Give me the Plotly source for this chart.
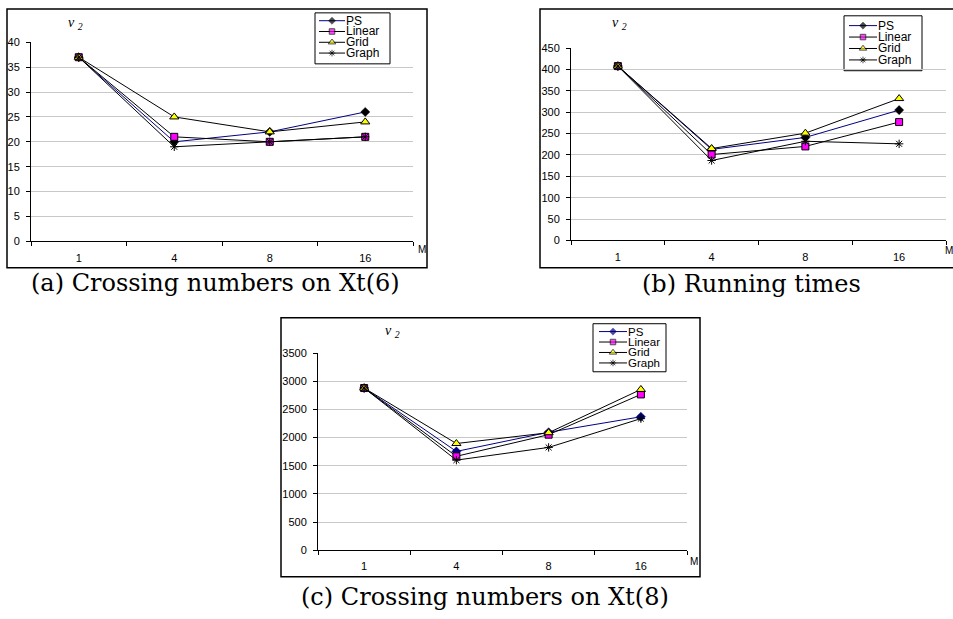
import plotly.graph_objects as go

W, H = 953, 619

categories = ["1", "4", "8", "16"]
series_names = ["PS", "Linear", "Grid", "Graph"]

# (a) Crossing numbers on Xt(6)
a_ps = [37, 20, 22, 26]
a_linear = [37, 21, 20, 21]
a_grid = [37, 25, 22, 24]
a_graph = [37, 19, 20, 21]

# (b) Running times
b_ps = [408, 213, 241, 305]
b_linear = [408, 201, 220, 277]
b_grid = [408, 215, 251, 332]
b_graph = [408, 187, 232, 226]

# (c) Crossing numbers on Xt(8)
c_ps = [2880, 1755, 2095, 2370]
c_linear = [2880, 1668, 2052, 2767]
c_grid = [2880, 1895, 2087, 2855]
c_graph = [2880, 1600, 1826, 2337]

y_ranges = [[0, 40], [0, 450], [0, 3500]]
y_dticks = [5, 50, 500]
captions = ["(a) Crossing numbers on Xt(6)", "(b) Running times", "(c) Crossing numbers on Xt(8)"]

# legend glyph sample: x positions along the sample line (axis units 0..1)
legend_sample_x = [0, 0.5, 1]
legend_rows = [0, 1, 2, 3]


def px(x):
    return x / W


def py(y):
    return 1 - y / H


# pixel geometry of each panel
panels = [
    dict(plot=(31, 413, 37, 240), box=(7, 427, 3, 267),
         lbox=(315, 390, 7, 59), lsample=(319, 345), lrows=(15, 48), lfont=12,
         v2=(75, 18), M=(422, 248), cap=(215, 282), ps_marker="black"),
    dict(plot=(571, 946, 43, 239), box=(540, 960, 3, 267),
         lbox=(844, 922, 10, 66), lsample=(849, 877), lrows=(20, 55), lfont=12,
         v2=(619, 18), M=(949, 249), cap=(751, 283), ps_marker="black"),
    dict(plot=(318, 687, 354, 555), box=(281, 700, 318, 582),
         lbox=(593, 666, 324, 373), lsample=(599, 627), lrows=(332, 364), lfont=11.5,
         v2=(392, 332), M=(694, 566), cap=(485, 603), ps_marker="#000080"),
]

data_sets = [
    [a_ps, a_linear, a_grid, a_graph],
    [b_ps, b_linear, b_grid, b_graph],
    [c_ps, c_linear, c_grid, c_graph],
]

fig = go.Figure()
shapes = []
annotations = []

for i, (p, ds) in enumerate(zip(panels, data_sets)):
    n = "" if i == 0 else str(i + 1)
    xa, ya = "x" + n, "y" + n
    ln = str(i + 4)
    lxa, lya = "x" + ln, "y" + ln
    styles = [
        dict(line=dict(color="#000080", width=1),
             marker=dict(symbol="diamond", size=7, color=p["ps_marker"],
                         line=dict(color=p["ps_marker"], width=0.5))),
        dict(line=dict(color="black", width=1),
             marker=dict(symbol="square", size=7, color="#ff00ff",
                         line=dict(color="black", width=1))),
        dict(line=dict(color="black", width=1),
             marker=dict(symbol="triangle-up", size=8, color="#ffff00",
                         line=dict(color="black", width=1))),
        dict(line=dict(color="black", width=1),
             marker=dict(symbol="asterisk-open", size=7, color="black",
                         line=dict(color="black", width=1))),
    ]
    for name, vals, st in zip(series_names, ds, styles):
        fig.add_trace(go.Scatter(
            x=categories, y=vals, name=name, mode="lines+markers",
            xaxis=xa, yaxis=ya, showlegend=False, cliponaxis=False, **st))

    # legend glyphs (line sample with a marker in the middle)
    for row, name, st in zip(legend_rows, series_names, styles):
        mk = dict(st["marker"])
        mk["size"] = [0, mk["size"] - 1.5, 0]
        fig.add_trace(go.Scatter(
            x=legend_sample_x, y=[row] * len(legend_sample_x), mode="lines+markers",
            line=st["line"], marker=mk, xaxis=lxa, yaxis=lya, showlegend=False,
            hoverinfo="skip", cliponaxis=False))
        annotations.append(dict(xref=lxa, yref=lya, x=1, y=row, text=name,
                                showarrow=False, xanchor="left", yanchor="middle",
                                xshift=0, borderpad=0,
                                font=dict(family="Liberation Sans",
                                          size=p["lfont"], color="black")))

    x0, x1, yt, yb = p["plot"]
    axis_common = dict(showline=True, linecolor="black", linewidth=1,
                       ticks="outside", ticklen=4, tickcolor="black",
                       tickfont=dict(family="Liberation Sans", size=11, color="black"),
                       zeroline=False, fixedrange=True)
    ls0, ls1 = p["lsample"]
    r0, r3 = p["lrows"]
    half = (r3 - r0) / 6.0
    ly_top, ly_bot = r0 - half, r3 + half
    fig.update_layout(**{
        "xaxis" + n: dict(domain=[px(x0), px(x1)], anchor=ya, type="category",
                          range=[-0.5, 3.5], tickson="boundaries", showgrid=False,
                          ticklabelstandoff=6, **axis_common),
        "yaxis" + n: dict(domain=[py(yb), py(yt)], anchor=xa, range=y_ranges[i],
                          dtick=y_dticks[i], showgrid=True, gridcolor="#c8c8c8",
                          gridwidth=1, ticklabelstandoff=4, **axis_common),
        "xaxis" + ln: dict(domain=[px(ls0), px(ls1)], anchor=lya, range=[0, 1],
                           visible=False, fixedrange=True),
        "yaxis" + ln: dict(domain=[py(ly_bot), py(ly_top)], anchor=lxa,
                           range=[3.5, -0.5], visible=False, fixedrange=True),
    })

    # legend frame, expressed in the legend axes' domain units
    bx0, bx1, byt, byb = p["lbox"]
    dx = ls1 - ls0
    dy = ly_bot - ly_top
    shapes.append(dict(type="rect", xref=lxa + " domain", yref=lya + " domain",
                       x0=(bx0 - ls0) / dx, x1=(bx1 - ls0) / dx,
                       y0=(ly_bot - byb) / dy, y1=(ly_bot - byt) / dy,
                       fillcolor="white", line=dict(color="black", width=1),
                       layer="below"))

    bx0, bx1, byt, byb = p["box"]
    shapes.append(dict(type="rect", xref="paper", yref="paper",
                       x0=px(bx0), x1=px(bx1), y0=py(byb), y1=py(byt),
                       line=dict(color="black", width=1.5), layer="below"))
    annotations.append(dict(xref="paper", yref="paper", x=px(p["v2"][0]), y=py(p["v2"][1]),
                            text="<i>v <sub>2</sub></i>", showarrow=False,
                            font=dict(family="Liberation Serif", size=14, color="black"),
                            xanchor="center", yanchor="middle"))
    annotations.append(dict(xref="paper", yref="paper", x=px(p["M"][0]), y=py(p["M"][1]),
                            text="M", showarrow=False,
                            font=dict(family="Liberation Sans", size=10, color="black"),
                            xanchor="center", yanchor="middle"))
    annotations.append(dict(xref="paper", yref="paper", x=px(p["cap"][0]), y=py(p["cap"][1]),
                            text=captions[i], showarrow=False,
                            font=dict(family="DejaVu Serif", size=24, color="black"),
                            xanchor="center", yanchor="middle"))

fig.update_layout(width=W, height=H, margin=dict(l=0, r=0, t=0, b=0),
                  paper_bgcolor="white", plot_bgcolor="rgba(0,0,0,0)",
                  shapes=shapes, annotations=annotations, showlegend=False)

fig.write_html("out.html", config={"displayModeBar": False})
